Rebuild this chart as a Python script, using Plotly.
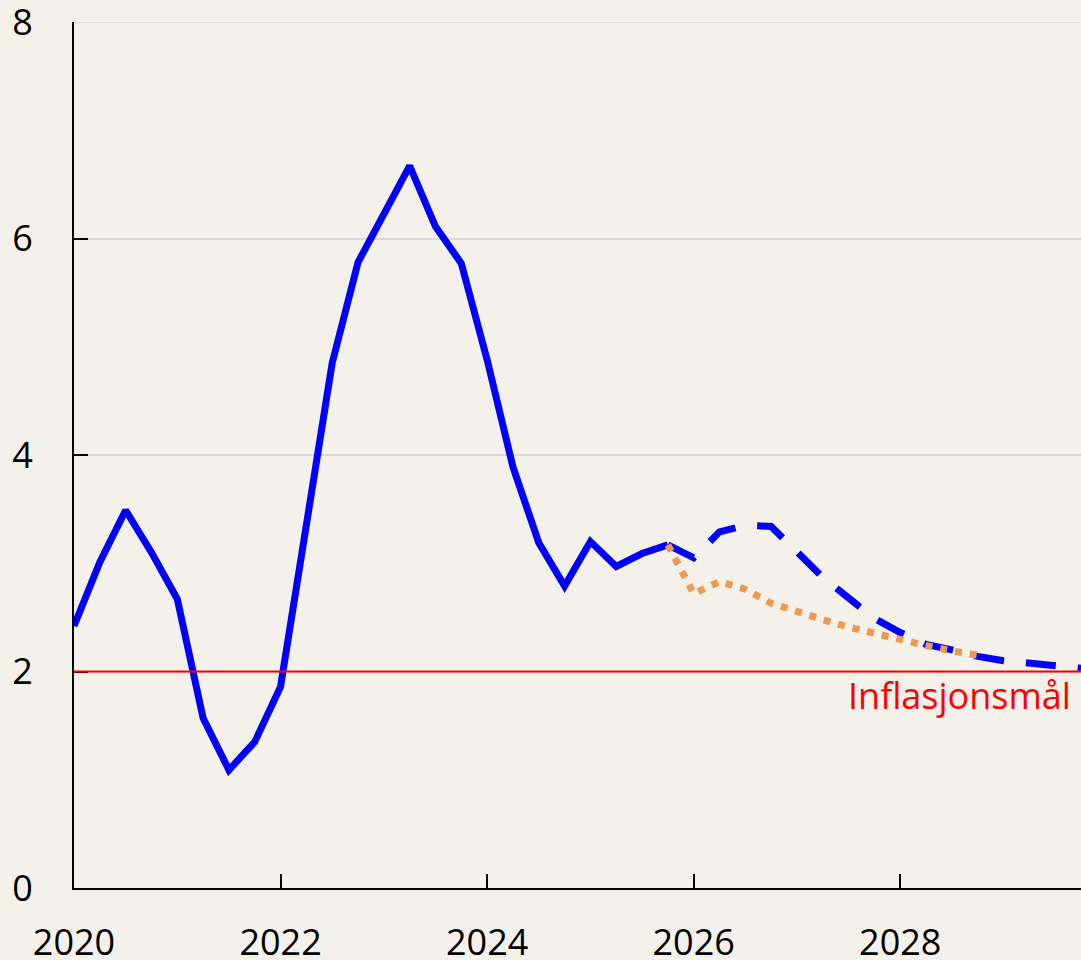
import plotly.graph_objects as go

# Historical (quarterly, decimal years)
hist_x = [2020.0 + 0.25 * i for i in range(24)]
hist_y = [2.42, 3.01, 3.49, 3.10, 2.67, 1.57, 1.09, 1.35, 1.86, 3.35, 4.85, 5.78,
          6.22, 6.67, 6.11, 5.77, 4.88, 3.89, 3.19, 2.79, 3.20, 2.97, 3.09, 3.17]

# Projection (blue dashed)
proj_x = [2025.75 + 0.25 * i for i in range(17)]
proj_y = [3.17, 3.05, 3.29, 3.35, 3.34, 3.10, 2.87, 2.68, 2.49, 2.36, 2.25, 2.20,
          2.14, 2.10, 2.08, 2.05, 2.03]

# Alternative projection (orange dotted)
alt_x = [2025.75 + 0.25 * i for i in range(13)]
alt_y = [3.17, 2.72, 2.83, 2.76, 2.63, 2.55, 2.48, 2.41, 2.35, 2.29, 2.24, 2.19, 2.15]

target = 2.0
target_label = "Inflasjonsmål"

x_ticks = [2020, 2022, 2024, 2026, 2028]
y_ticks = [0, 2, 4, 6, 8]
x_range = [2020, 2029.75]
y_range = [0, 8]

BG = "#F4F1EA"
FONT = "Open Sans"
GRID = "#D9D9D9"

fig = go.Figure()

# top gridline (plotly omits the gridline at the range edge)
fig.add_hline(y=y_ticks[-1], line=dict(color=GRID, width=1.5), layer="below")

fig.add_trace(go.Scatter(x=hist_x, y=hist_y, mode="lines",
                         line=dict(color="#0000FF", width=7), hoverinfo="skip"))
fig.add_trace(go.Scatter(x=proj_x, y=proj_y, mode="lines",
                         line=dict(color="#0000FF", width=7, dash="30px,22px"), hoverinfo="skip"))
fig.add_trace(go.Scatter(x=alt_x, y=alt_y, mode="lines",
                         line=dict(color="#EF9850", width=7, dash="7px,8px"), hoverinfo="skip"))

fig.add_hline(y=target, line=dict(color="#FF0000", width=2))

fig.add_annotation(x=1, xref="paper", y=target, yref="y", text=target_label,
                   showarrow=False, xanchor="right", yanchor="top", xshift=-8, yshift=3,
                   font=dict(family=FONT, size=36, color="#FF0000"))

fig.update_layout(
    template="none",
    width=1081, height=960,
    margin=dict(l=74, r=0, t=22, b=72),
    paper_bgcolor=BG, plot_bgcolor=BG,
    showlegend=False,
    font=dict(family=FONT, size=36, color="black"),
)
fig.update_xaxes(range=x_range, tickvals=x_ticks, ticktext=[str(t) for t in x_ticks],
                 showgrid=False, zeroline=False, showline=True, linecolor="black", linewidth=2,
                 ticks="inside", ticklen=14, tickwidth=2, tickcolor="black",
                 ticklabelstandoff=22, automargin=False, ticklabeloverflow="allow",
                 tickfont=dict(family=FONT, size=36, color="black"))
fig.update_yaxes(range=y_range, tickvals=y_ticks, ticktext=[str(t) for t in y_ticks],
                 showgrid=True, gridcolor=GRID, gridwidth=1.5, zeroline=False,
                 showline=True, linecolor="black", linewidth=2,
                 ticks="inside", ticklen=14, tickwidth=2, tickcolor="black",
                 ticklabelstandoff=32, automargin=False, ticklabeloverflow="allow",
                 tickfont=dict(family=FONT, size=36, color="black"))

fig.write_html("out.html", config={"displayModeBar": False},
               post_script="document.body.style.margin='0';document.body.style.overflow='hidden';")
